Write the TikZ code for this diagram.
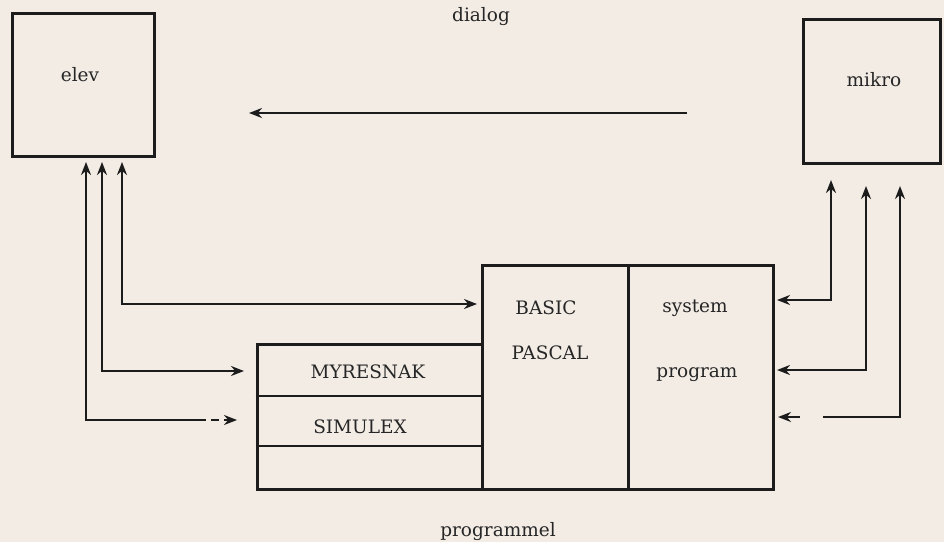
\documentclass[tikz,border=0pt]{standalone}
\usepackage{fontspec}
\setmainfont{DejaVu Serif}
\usetikzlibrary{arrows.meta}
\definecolor{bgc}{RGB}{242,236,229}
\definecolor{ink}{RGB}{28,28,28}
\definecolor{txt}{RGB}{38,38,38}
\tikzset{
  boxshape/.style={draw=ink, line width=3pt, rectangle, inner sep=0pt},
  lbl/.style={text=txt, font=\fontsize{18.5}{20}\selectfont, inner sep=0pt},
  conn/.style={draw=ink, line width=2.4pt, line join=miter},
  tip/.style={-{Stealth[length=13pt,width=10pt]}},
  tips/.style={{Stealth[length=13pt,width=10pt]}-{Stealth[length=13pt,width=10pt]}},
  tipstart/.style={{Stealth[length=13pt,width=10pt]}-},
}
\begin{document}
\begin{tikzpicture}[x=1pt,y=-1pt]
\fill[bgc] (0,0) rectangle (944,542);
\useasboundingbox (0,0) rectangle (944,542);

% boxes
\node[boxshape, minimum width=142pt, minimum height=143pt] (elev) at (83,84.5) {};
\node[boxshape, minimum width=137pt, minimum height=144pt] (mikro) at (871.5,91) {};
\node[boxshape, minimum width=146pt, minimum height=224pt] (basic) at (555,377) {};
\node[boxshape, minimum width=145pt, minimum height=224pt] (sys) at (700.5,377) {};
\node[boxshape, minimum width=225pt, minimum height=145pt] (prog) at (369.5,416.5) {};
\draw[draw=ink, line width=2.4pt] (prog.west |- 0,396) coordinate (r1w) -- (prog.east |- 0,396) coordinate (r1e);
\draw[draw=ink, line width=2.4pt] (prog.west |- 0,446) coordinate (r2w) -- (prog.east |- 0,446) coordinate (r2e);

% texts
\node[lbl] (tdialog) at (481,17) {dialog};
\node[lbl] (tprogrammel) at (498,532) {programmel};
\node[lbl] (telev) at (80,75) {elev};
\node[lbl] (tmikro) at (874,80) {mikro};
\node[lbl] (tbasic) at (546,308) {BASIC};
\node[lbl] (tpascal) at (550,353) {PASCAL};
\node[lbl] (tsystem) at (695,308) {system};
\node[lbl] (tprogram) at (697,375) {program};
\node[lbl] (tmyr) at (368,372) {MYRESNAK};
\node[lbl] (tsim) at (360,427) {SIMULEX};

% coordinates
\coordinate (e1) at (122,162);
\coordinate (e2) at (102,162);
\coordinate (e3) at (86,162);
\coordinate (d1) at (477,304);
\coordinate (d2) at (244,371);
\coordinate (d3) at (198,420);
\coordinate (d3b) at (237,420);
\coordinate (m1) at (831,180);
\coordinate (m2) at (866,186);
\coordinate (m3) at (900,186);
\coordinate (s1) at (777,300);
\coordinate (s2) at (777,370);
\coordinate (s3) at (823,417);
\coordinate (s3a) at (800,417);
\coordinate (s3b) at (778,417);
\coordinate (dA) at (687,113);
\coordinate (dB) at (249,113);

% connectors
\draw[conn, tip] (dA) -- (dB);
\draw[conn, tips] (e1) |- (d1);
\draw[conn, tips] (e2) |- (d2);
\draw[conn, tipstart] (e3) |- (d3);
\draw[conn, tip, dash pattern=on 8pt off 5pt] (d3) -- (d3b);
\draw[conn, tips] (m1) |- (s1);
\draw[conn, tips] (m2) |- (s2);
\draw[conn, tipstart] (m3) |- (s3);
\draw[conn, tip] (s3a) -- (s3b);
\end{tikzpicture}
\end{document}
